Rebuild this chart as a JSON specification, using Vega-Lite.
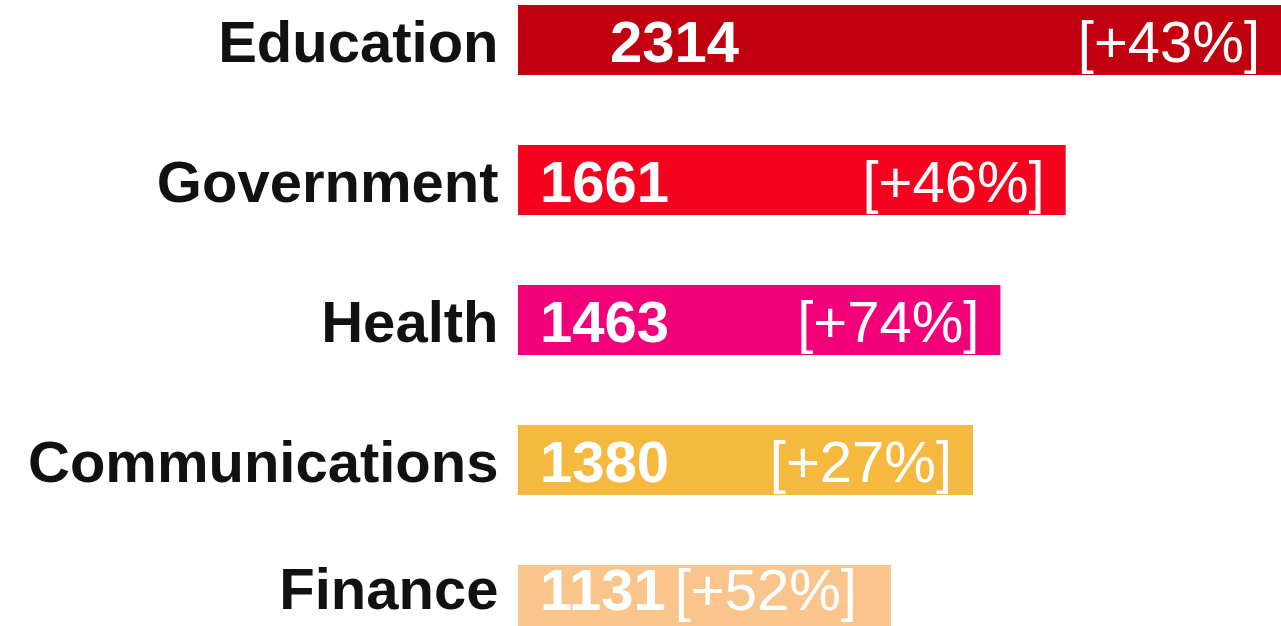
{
  "$schema": "https://vega.github.io/schema/vega-lite/v6.json",
  "autosize": {"type": "none"},
  "padding": {"left": 518, "top": 0, "right": 0, "bottom": 0},
  "width": 763,
  "height": 640,
  "background": "white",
  "config": {"view": {"stroke": null}},
  "data": {
    "values": [
      {"sector": "Education", "jobs": 2314, "change": "[+43%]"},
      {"sector": "Government", "jobs": 1661, "change": "[+46%]"},
      {"sector": "Health", "jobs": 1463, "change": "[+74%]"},
      {"sector": "Communications", "jobs": 1380, "change": "[+27%]"},
      {"sector": "Finance", "jobs": 1131, "change": "[+52%]"}
    ]
  },
  "encoding": {
    "y": {
      "field": "sector",
      "type": "nominal",
      "sort": null,
      "scale": {"paddingInner": 0.5, "paddingOuter": 0.0357},
      "axis": {
        "title": null,
        "domain": false,
        "ticks": false,
        "labelFont": "Liberation Sans",
        "labelFontWeight": "bold",
        "labelFontSize": 58,
        "labelColor": "#111111",
        "labelPadding": 20,
        "labelBaseline": "alphabetic",
        "labelOffset": {"condition": {"test": "datum.value === 'Finance'", "value": 9}, "value": 22},
        "labelLimit": 600
      }
    }
  },
  "layer": [
    {
      "mark": {"type": "bar"},
      "encoding": {
        "x": {"field": "jobs", "type": "quantitative", "scale": {"domain": [0, 2314], "nice": false}, "axis": null},
        "color": {
          "field": "sector",
          "type": "nominal",
          "scale": {
            "domain": ["Education", "Government", "Health", "Communications", "Finance"],
            "range": ["#C0000F", "#F5031E", "#F2007A", "#F6B940", "#F9C58C"]
          },
          "legend": null
        }
      }
    },
    {
      "transform": [{"filter": "datum.sector !== 'Education' && datum.sector !== 'Finance'"}],
      "mark": {"type": "text", "align": "left", "baseline": "alphabetic", "dx": 22, "dy": 22, "font": "Liberation Sans", "fontWeight": "bold", "fontSize": 58, "color": "white"},
      "encoding": {
        "x": {"datum": 0, "type": "quantitative"},
        "text": {"field": "jobs", "type": "quantitative"}
      }
    },
    {
      "transform": [{"filter": "datum.sector === 'Finance'"}],
      "mark": {"type": "text", "align": "left", "baseline": "alphabetic", "dx": 22, "dy": 10, "font": "Liberation Sans", "fontWeight": "bold", "fontSize": 58, "color": "white"},
      "encoding": {
        "x": {"datum": 0, "type": "quantitative"},
        "text": {"field": "jobs", "type": "quantitative"}
      }
    },
    {
      "transform": [{"filter": "datum.sector === 'Education'"}],
      "mark": {"type": "text", "align": "left", "baseline": "alphabetic", "dx": 92, "dy": 22, "font": "Liberation Sans", "fontWeight": "bold", "fontSize": 58, "color": "white"},
      "encoding": {
        "x": {"datum": 0, "type": "quantitative"},
        "text": {"field": "jobs", "type": "quantitative"}
      }
    },
    {
      "transform": [{"filter": "datum.sector !== 'Finance'"}],
      "mark": {"type": "text", "align": "right", "baseline": "alphabetic", "dx": -21, "dy": 22, "font": "Liberation Sans", "fontSize": 58, "color": "white"},
      "encoding": {
        "x": {"field": "jobs", "type": "quantitative"},
        "text": {"field": "change", "type": "nominal"}
      }
    },
    {
      "transform": [{"filter": "datum.sector === 'Finance'"}],
      "mark": {"type": "text", "align": "right", "baseline": "alphabetic", "dx": -34, "dy": 10, "font": "Liberation Sans", "fontSize": 58, "color": "white"},
      "encoding": {
        "x": {"field": "jobs", "type": "quantitative"},
        "text": {"field": "change", "type": "nominal"}
      }
    }
  ]
}
